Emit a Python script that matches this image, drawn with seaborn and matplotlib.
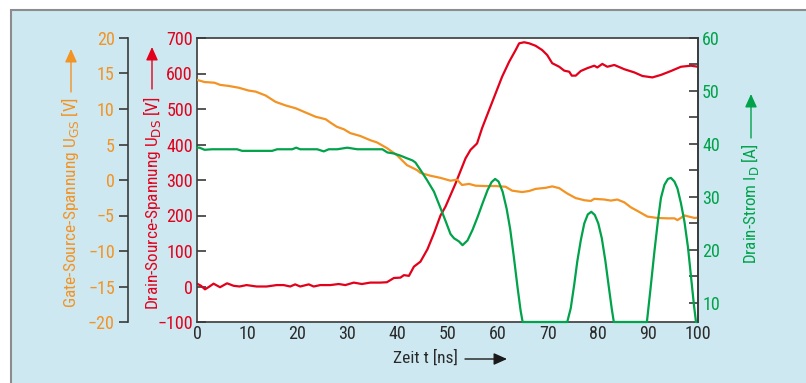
import matplotlib
matplotlib.use("Agg")
import matplotlib.pyplot as plt
import matplotlib.font_manager as fm
from matplotlib.patches import Rectangle, FancyArrowPatch
from matplotlib.ticker import MultipleLocator
import seaborn as sns
import pandas as pd

# ---------------- data ----------------
t_ugs = [0, 1.5, 3.5, 4.6, 6.3, 8.3, 10.3, 11.7, 13.7, 15.7, 17.7, 19.7, 21.7, 23.7, 24.6, 25.7,
         26.6, 27.9, 29.3, 30.6, 32.6, 34.6, 35.9, 37.9, 39.9, 41.9, 43.9, 44.6, 46.6, 48.6,
         49.6, 50.6, 51.9, 52.9, 54.3, 55.6, 57.6, 59.6, 61.6, 62.9, 64.9, 66.3, 67.6, 69.6,
         70.9, 72.3, 73.9, 75.6, 76.5, 77.3, 78.6, 79.3, 81.3, 82.6, 83.9, 85.3, 86.6, 87.9,
         89.9, 91.9, 93.9, 95.3, 95.9, 97.3, 99.3, 100]
ugs = [14.1, 13.8, 13.7, 13.4, 13.25, 13.0, 12.6, 12.45, 11.9, 11.0, 10.5, 10.1, 9.5, 8.9, 8.75, 8.55,
       8.1, 7.5, 7.15, 6.6, 6.2, 5.6, 5.3, 4.5, 3.5, 2.1, 1.4, 1.0, 0.6, 0.3,
       0.1, -0.1, 0.05, -0.7, -0.55, -0.8, -0.85, -0.85, -0.95, -1.5, -1.7, -1.55, -1.25, -1.1,
       -0.9, -1.15, -1.9, -2.55, -2.7, -2.85, -2.95, -2.65, -2.75, -2.9, -2.75, -3.15, -3.85, -4.35,
       -5.15, -5.35, -5.4, -5.4, -5.65, -5.0, -5.35, -5.3]

t_uds = [0, 0.8, 1.6, 2.5, 3.3, 4.6, 6.0, 7.3, 8.5, 9.9, 11.9, 13.9, 15.9, 17.3, 18.6, 19.6, 20.6,
         22.3, 23.3, 24.6, 26.6, 28.3, 29.6, 31.3, 32.9, 34.6, 36.6, 37.9, 39.3, 40.6, 41.3, 42.3,
         43.3, 44.6, 46.0, 47.3, 48.6, 49.6, 51.6, 53.6, 54.6, 55.9, 56.9, 58.3, 59.6, 60.9, 62.3,
         63.6, 64.3, 65.3, 66.3, 67.6, 68.9, 69.9, 70.9, 72.3, 73.3, 74.3, 74.8, 75.6, 76.6, 77.9,
         79.3, 79.9, 80.9, 81.9, 83.3, 85.3, 87.3, 88.9, 90.9, 92.6, 94.6, 96.6, 98.6, 100]
uds = [8, 2, -8, 0, 8, -2, 9, 2, 0, 4, 0, 0, 4, 4, 0, 6, 0,
       6, 0, 4, 4, 7, 4, 11, 7, 11, 11, 12, 24, 25, 32, 30,
       56, 70, 105, 150, 200, 225, 290, 361, 385, 403, 446, 497, 544, 591, 633,
       666, 685, 688, 685, 678, 666, 652, 629, 619, 608, 605, 594, 594, 607, 615,
       622, 617, 627, 619, 624, 612, 603, 593, 589, 596, 607, 619, 622, 619]

t_id = [0, 0.5, 1.5, 3, 8, 9, 15, 16, 19, 19.8, 20.6, 24, 25.3, 26.3, 28, 30, 32, 37, 38, 39.3,
        40.6, 41.9, 43.0, 43.6, 44.6, 45.9, 47.3, 48.6, 49.6, 50.6, 51.3, 52.3, 53.0,
        54.0, 55.0, 56.0, 57.0, 58.0, 58.8, 59.5, 60.2, 61.0, 61.8, 62.5, 63.2, 64.0, 64.6, 65.0,
        73.9, 74.6, 75.3, 75.9, 76.6, 77.3, 78.0, 78.7, 79.4, 80.1, 80.8, 81.5, 82.2, 82.8, 83.2,
        89.8, 90.5, 91.3, 92.0, 92.6, 93.3, 94.0, 94.6, 95.3, 95.9, 96.6, 97.3, 98.0, 98.6, 99.2,
        99.6, 100]
i_d = [39.3, 39.3, 38.9, 39.0, 39.0, 38.7, 38.7, 39.0, 39.0, 39.3, 39.0, 39.0, 38.6, 39.0, 39.0, 39.3,
       39.0, 39.0, 38.4, 38.2,
       37.8, 37.3, 36.9, 36.5, 35.1, 33.2, 31.0, 27.9, 25.5, 23.0, 22.2, 21.6, 20.9,
       21.8, 23.8, 26.2, 28.8, 31.3, 32.8, 33.4, 32.9, 31.0, 27.8, 24.0, 19.0, 12.8, 8.5, 6.4,
       6.4, 9.0, 13.5, 17.8, 21.8, 25.0, 26.7, 27.2, 26.6, 25.0, 22.2, 18.0, 13.0, 8.8, 6.4,
       6.4, 12.5, 19.7, 25.5, 29.8, 32.3, 33.4, 33.6, 32.9, 31.6, 28.8, 25.3, 20.5, 15.0, 9.5,
       6.4, 6.4]

x_ticks = list(range(0, 101, 10))
ugs_ticks = [-20, -15, -10, -5, 0, 5, 10, 15, 20]
ugs_labels = ["\u221220", "\u221215", "\u221210", "\u22125", "0", "5", "10", "15", "20"]
uds_ticks = [-100, 0, 100, 200, 300, 400, 500, 600, 700]
uds_labels = ["\u2212100", "0", "100", "200", "300", "400", "500", "600", "700"]
id_ticks = [10, 20, 30, 40, 50, 60]

# ---------------- font choice (prefer a condensed face) ----------------
sns.set_style("white")


def pick_condensed():
    best, best_score = None, -1
    for f in fm.fontManager.ttflist:
        fn = f.fname.lower().split("/")[-1]
        nm = f.name.lower()
        txt = fn + " " + nm
        if not any(k in txt for k in ("condensed", "narrow", "cond")):
            continue
        if f.style != "normal":
            continue
        w = f.weight
        if w not in (400, "normal", "regular", "book", "Regular"):
            continue
        bad = txt.replace("condensed", "").replace("semi", "S").replace("extra", "E")
        if any(k in bad for k in ("bold", "light", "thin", "black", "medium", "italic")):
            continue
        score = 1
        if "semi" in txt:
            score = 2
        elif "extra" in txt or "ultra" in txt:
            score = 1
        elif "condensed" in txt or "narrow" in txt:
            score = 3
        if "noto" in txt or "liberation" in txt or "roboto" in txt:
            score += 1
        if score > best_score:
            best, best_score = f, score
    return best


cf = pick_condensed()
if cf is not None:
    FP = fm.FontProperties(fname=cf.fname)
    plt.rcParams["mathtext.fontset"] = "custom"
    for key in ("rm", "it", "bf", "sf"):
        plt.rcParams["mathtext." + key] = f"{cf.name}:stretch={cf.stretch}"
else:
    FP = fm.FontProperties(family=["Liberation Sans", "DejaVu Sans"])
    plt.rcParams["mathtext.fontset"] = "custom"
    plt.rcParams["mathtext.rm"] = "Liberation Sans"
    plt.rcParams["mathtext.it"] = "Liberation Sans"

C_OR = "#f39323"
C_RD = "#e3001b"
C_GR = "#00a24a"
C_AX = "#3a3a3a"
C_TX = "#2a2a2a"
BG = "#cde8f0"
W, H = 806, 383
TICK_FS = 13

fig = plt.figure(figsize=(W / 100, H / 100), dpi=100, facecolor="white")
fig.patches.append(Rectangle((11 / W, -0.01), 1.05, (H - 10) / H + 0.01, transform=fig.transFigure,
                             facecolor=BG, edgecolor="#8c8c8c", linewidth=1.5, zorder=-10))

L, R, B, T = 197, 698, 322, 38
ax = fig.add_axes([L / W, (H - B) / H, (R - L) / W, (B - T) / H])
ax.set_facecolor("white")

df_uds = pd.DataFrame({"t": t_uds, "v": uds})
df_ugs = pd.DataFrame({"t": t_ugs, "v": ugs})
df_id = pd.DataFrame({"t": t_id, "v": i_d})

sns.lineplot(data=df_uds, x="t", y="v", ax=ax, color=C_RD, linewidth=1.6, estimator=None)
ax.set_xlim(0, 100)
ax.set_ylim(-100, 700)
ax.set_xticks(x_ticks)
ax.set_yticks(uds_ticks)
ax.set_yticklabels(uds_labels)
ax.set_xlabel("")
ax.set_ylabel("")
for s in ax.spines.values():
    s.set_color(C_AX)
    s.set_linewidth(1.2)
ax.tick_params(axis="x", direction="in", length=6.5, width=1.2, color=C_AX, labelcolor=C_TX, pad=2)
ax.tick_params(axis="y", direction="in", length=6.5, width=1.2, color=C_AX, labelcolor=C_RD, pad=3)

# gate-source axis (left, offset)
axg = ax.twinx()
sns.lineplot(data=df_ugs, x="t", y="v", ax=axg, color=C_OR, linewidth=1.6, estimator=None)
axg.set_ylim(-20, 20)
axg.yaxis.set_ticks_position("left")
axg.yaxis.set_label_position("left")
axg.spines["left"].set_position(("axes", (128 - L) / (R - L)))
for k in ["right", "top", "bottom"]:
    axg.spines[k].set_visible(False)
axg.spines["left"].set_visible(True)
axg.spines["left"].set_color(C_AX)
axg.spines["left"].set_linewidth(1.2)
axg.set_yticks(ugs_ticks)
axg.set_yticklabels(ugs_labels)
axg.set_ylabel("")
axg.tick_params(axis="y", direction="out", length=6.5, width=1.2, color=C_AX, labelcolor=C_OR, pad=3)

# drain current axis (right)
axi = ax.twinx()
sns.lineplot(data=df_id, x="t", y="v", ax=axi, color=C_GR, linewidth=1.6, estimator=None)
for ln in axi.lines:
    ln.set_clip_on(False)
axi.set_ylim(6.4, 60)
axi.set_yticks(id_ticks)
axi.yaxis.set_minor_locator(MultipleLocator(5))
axi.set_ylabel("")
for k in ["left", "top", "bottom"]:
    axi.spines[k].set_visible(False)
axi.spines["right"].set_color(C_AX)
axi.spines["right"].set_linewidth(1.2)
axi.tick_params(axis="y", which="both", direction="in", length=6.5, width=1.2, color=C_AX,
                labelcolor=C_GR, pad=3, right=True)
axi.set_xlim(0, 100)

for a in (ax, axg, axi):
    for lab in a.get_xticklabels() + a.get_yticklabels():
        lab.set_fontproperties(FP)
        lab.set_fontsize(TICK_FS)


def fy(y):
    return (H - y) / H


# axis titles (sized to the reference's text extents)
titles = [
    (70, 308, r"Gate-Source-Spannung U$_{\mathrm{GS}}$ [V]", C_OR, 90, 210),
    (152, 310, r"Drain-Source-Spannung U$_{\mathrm{DS}}$ [V]", C_RD, 90, 212),
    (750, 264, r"Drain-Strom I$_{\mathrm{D}}$ [A]", C_GR, 90, 120),
]
objs = []
for x, y, s, c, rot, span in titles:
    tx = fig.text(x / W, fy(y), s, rotation=rot, ha="center", va="bottom", color=c,
                  fontproperties=FP, fontsize=13)
    objs.append((tx, span, True))
tz = fig.text(425 / W, fy(358), "Zeit t [ns]", ha="center", va="center", color=C_TX,
              fontproperties=FP, fontsize=13)
objs.append((tz, 64, False))

fig.canvas.draw()
rend = fig.canvas.get_renderer()
for tx, span, vert in objs:
    bb = tx.get_window_extent(rend)
    cur = bb.height if vert else bb.width
    if cur > 0:
        tx.set_fontsize(min(16, max(9, 13 * span / cur)))


def arrow(x0, y0, x1, y1, c):
    fig.add_artist(FancyArrowPatch(
        (x0 / W, fy(y0)), (x1 / W, fy(y1)), transform=fig.transFigure,
        arrowstyle="-|>,head_length=8,head_width=3.6", color=c, linewidth=1.0,
        shrinkA=0, shrinkB=0, mutation_scale=1))


arrow(71, 92, 71, 49, C_OR)
arrow(152, 89, 152, 47, C_RD)
arrow(751, 138, 751, 94, C_GR)
arrow(465, 359, 507, 359, "#1a1a1a")

fig.savefig("out.png", dpi=100, facecolor="white")
